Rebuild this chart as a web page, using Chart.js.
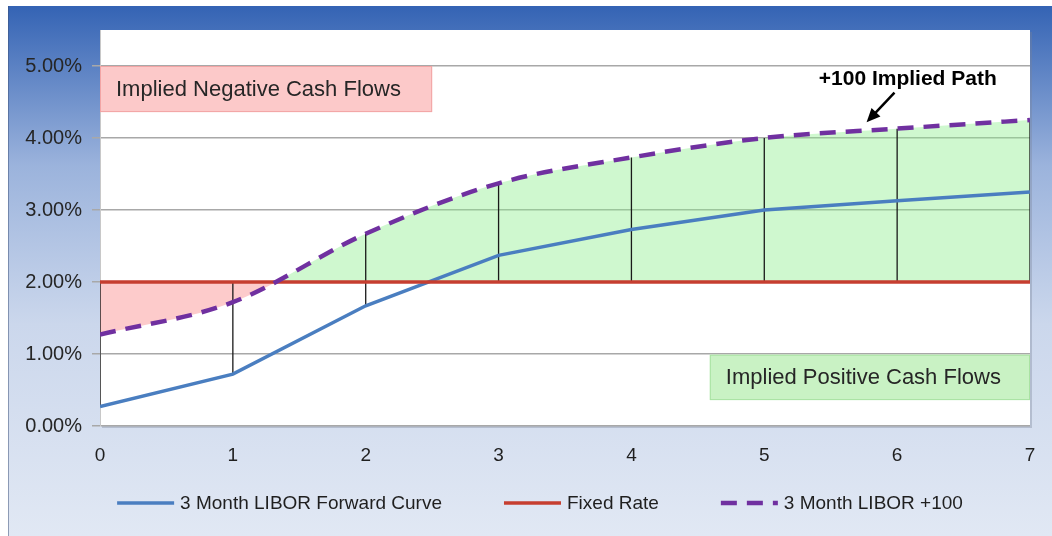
<!DOCTYPE html>
<html lang="en">
<head>
<meta charset="UTF-8" />
<title>3 Month LIBOR vs Fixed Rate</title>
<script src="https://cdn.jsdelivr.net/npm/chart.js"></script>
<style>
  html, body { margin: 0; padding: 0; background: #fff; }
  canvas { display: block; }
</style>
</head>
<body>
<canvas id="chart" width="1052" height="536"></canvas>
<script>
  // values (percent)
  const years = [0, 1, 2, 3, 4, 5, 6, 7];
  const liborFwd = [0.27, 0.72, 1.67, 2.37, 2.73, 3.00, 3.13, 3.25];
  const fixedRate = [2, 2, 2, 2, 2, 2, 2, 2];
  const liborPlus100 = [1.27, 1.72, 2.67, 3.37, 3.73, 4.00, 4.13, 4.25];
  const yTicks = [0, 1, 2, 3, 4, 5];
  const seriesNames = ["3 Month LIBOR Forward Curve", "Fixed Rate", "3 Month LIBOR +100"];

  const sans = "'Liberation Sans', Arial, sans-serif";

  const pts = arr => years.map((x, i) => ({ x: x, y: arr[i] }));

  // vertical lines between the curves at each reset date
  const dropLines = [];
  years.forEach((x, i) => {
    const lo = Math.min(liborFwd[i], fixedRate[i]);
    const hi = Math.max(liborPlus100[i], fixedRate[i]);
    dropLines.push({ x: x, y: lo }, { x: x, y: hi }, { x: x, y: null });
  });

  // background frame + white plot area
  const framePlugin = {
    id: "frame",
    beforeDraw(chart) {
      const { ctx, width, height, chartArea: a } = chart;
      ctx.save();
      ctx.fillStyle = "#fff";
      ctx.fillRect(0, 0, width, height);
      const g = ctx.createLinearGradient(0, 6, 0, height);
      g.addColorStop(0, "#3463b4");
      g.addColorStop(0.3, "#9bb3dc");
      g.addColorStop(0.6, "#cbd7ec");
      g.addColorStop(1, "#e1e8f4");
      ctx.fillStyle = g;
      ctx.fillRect(8, 6, width - 8, height - 6);
      ctx.fillStyle = "rgba(60,80,120,0.5)";
      ctx.fillRect(8, 6, 1, height - 6);
      ctx.fillStyle = "rgba(120,130,150,0.35)";
      ctx.fillRect(a.left + 2, a.top + 2, a.right - a.left, a.bottom - a.top);
      ctx.fillStyle = "#fff";
      ctx.fillRect(a.left, a.top, a.right - a.left, a.bottom - a.top);
      ctx.restore();
    }
  };

  // text boxes and callout, placed in data units
  const notes = {
    neg: { x0: 0, x1: 2.5, y0: 4.36, y1: 5.0, text: "Implied Negative Cash Flows", fill: "#fcc9c9", stroke: "#f2a4a4" },
    pos: { x0: 4.59, x1: 7, y0: 0.36, y1: 0.99, text: "Implied Positive Cash Flows", fill: "#c9f2c4", stroke: "#a9e2a2" },
    callout: { x: 6.08, y: 4.82, text: "+100 Implied Path", tail: [5.98, 4.63], tip: [5.77, 4.22] }
  };

  const notesPlugin = {
    id: "notes",
    beforeDatasetsDraw(chart) {
      const { ctx, scales: { x, y } } = chart;
      ctx.save();
      [notes.neg, notes.pos].forEach(b => {
        const l = x.getPixelForValue(b.x0), r = x.getPixelForValue(b.x1);
        const t = y.getPixelForValue(b.y1), bt = y.getPixelForValue(b.y0);
        ctx.fillStyle = b.fill;
        ctx.fillRect(l, t, r - l, bt - t);
        ctx.strokeStyle = b.stroke;
        ctx.lineWidth = 1;
        ctx.strokeRect(l + 0.5, t + 0.5, r - l - 1, bt - t - 1);
        ctx.fillStyle = "#262626";
        ctx.font = "22px " + sans;
        ctx.textBaseline = "middle";
        ctx.textAlign = "left";
        ctx.fillText(b.text, l + 16, (t + bt) / 2 + 1);
      });
      ctx.restore();
    },
    afterDatasetsDraw(chart) {
      const { ctx, scales: { x, y } } = chart;
      const c = notes.callout;
      ctx.save();
      ctx.fillStyle = "#000";
      ctx.font = "bold 21px " + sans;
      ctx.textAlign = "center";
      ctx.textBaseline = "middle";
      ctx.fillText(c.text, x.getPixelForValue(c.x), y.getPixelForValue(c.y));
      const x1 = x.getPixelForValue(c.tail[0]), y1 = y.getPixelForValue(c.tail[1]);
      const x2 = x.getPixelForValue(c.tip[0]), y2 = y.getPixelForValue(c.tip[1]);
      const ang = Math.atan2(y2 - y1, x2 - x1);
      ctx.strokeStyle = "#000";
      ctx.lineWidth = 2.5;
      ctx.beginPath();
      ctx.moveTo(x1, y1);
      ctx.lineTo(x2 - 8 * Math.cos(ang), y2 - 8 * Math.sin(ang));
      ctx.stroke();
      ctx.beginPath();
      ctx.moveTo(x2, y2);
      ctx.lineTo(x2 - 15 * Math.cos(ang - 0.42), y2 - 15 * Math.sin(ang - 0.42));
      ctx.lineTo(x2 - 15 * Math.cos(ang + 0.42), y2 - 15 * Math.sin(ang + 0.42));
      ctx.closePath();
      ctx.fill();
      ctx.restore();
    }
  };

  // legend drawn below the axis, styles taken from the datasets
  const legendPlugin = {
    id: "lineLegend",
    afterDraw(chart) {
      const { ctx } = chart;
      const items = chart.data.datasets.filter(d => seriesNames.includes(d.label));
      const sample = 57, gapText = 6, gapItem = 62;
      ctx.save();
      ctx.font = "19px " + sans;
      const widths = items.map(d => sample + gapText + ctx.measureText(d.label).width);
      const total = widths.reduce((s, w) => s + w, 0) + gapItem * (items.length - 1);
      let cx = 540 - total / 2;
      const cy = 503;
      items.forEach((d, i) => {
        ctx.strokeStyle = d.borderColor;
        ctx.lineWidth = d.borderWidth;
        ctx.setLineDash(d.borderDash || []);
        ctx.beginPath();
        ctx.moveTo(cx, cy);
        ctx.lineTo(cx + sample, cy);
        ctx.stroke();
        ctx.setLineDash([]);
        ctx.fillStyle = "#1f1f1f";
        ctx.textBaseline = "middle";
        ctx.fillText(d.label, cx + sample + gapText, cy + 1);
        cx += widths[i] + gapItem;
      });
      ctx.restore();
    }
  };

  new Chart(document.getElementById("chart"), {
    type: "line",
    data: {
      datasets: [
        {
          label: "band",
          data: pts(liborPlus100),
          borderWidth: 0,
          borderColor: "rgba(0,0,0,0)",
          pointRadius: 0,
          cubicInterpolationMode: "monotone",
          fill: { target: { value: 2 }, above: "rgba(140,238,140,0.42)", below: "rgba(250,130,130,0.42)" },
          order: 10
        },
        {
          label: "drops",
          data: dropLines,
          borderColor: "#1a1a1a",
          borderWidth: 1.3,
          pointRadius: 0,
          spanGaps: false,
          fill: false,
          order: 9
        },
        {
          label: seriesNames[0],
          data: pts(liborFwd),
          borderColor: "#4a7ec0",
          borderWidth: 3.5,
          pointRadius: 0,
          fill: false,
          order: 3
        },
        {
          label: seriesNames[1],
          data: pts(fixedRate),
          borderColor: "#c63e30",
          borderWidth: 3.5,
          pointRadius: 0,
          fill: false,
          order: 2
        },
        {
          label: seriesNames[2],
          data: pts(liborPlus100),
          borderColor: "#7030a0",
          borderWidth: 4.5,
          borderDash: [16, 10],
          pointRadius: 0,
          cubicInterpolationMode: "monotone",
          fill: false,
          order: 1
        }
      ]
    },
    options: {
      responsive: false,
      animation: false,
      devicePixelRatio: 1,
      layout: { padding: { top: 30, right: 22, bottom: 56, left: 0 } },
      plugins: {
        legend: { display: false },
        tooltip: { enabled: false }
      },
      scales: {
        x: {
          type: "linear",
          min: 0,
          max: 7,
          offset: false,
          grid: { display: false },
          border: { display: false },
          ticks: { stepSize: 1, padding: 10, color: "#1f1f1f", font: { family: sans, size: 19 } },
          afterFit: s => { s.height = 54; }
        },
        y: {
          min: 0,
          max: 5.5,
          afterBuildTicks: s => { s.ticks = yTicks.map(v => ({ value: v })); },
          grid: { color: "#a8a8a8", lineWidth: 1.5, tickLength: 8 },
          border: { display: true, color: "#c8c8c8" },
          ticks: {
            padding: 10,
            color: "#262626",
            font: { family: sans, size: 20 },
            callback: v => v.toFixed(2) + "%"
          },
          afterFit: s => { s.width = 100; }
        }
      }
    },
    plugins: [framePlugin, notesPlugin, legendPlugin]
  });
</script>
</body>
</html>
